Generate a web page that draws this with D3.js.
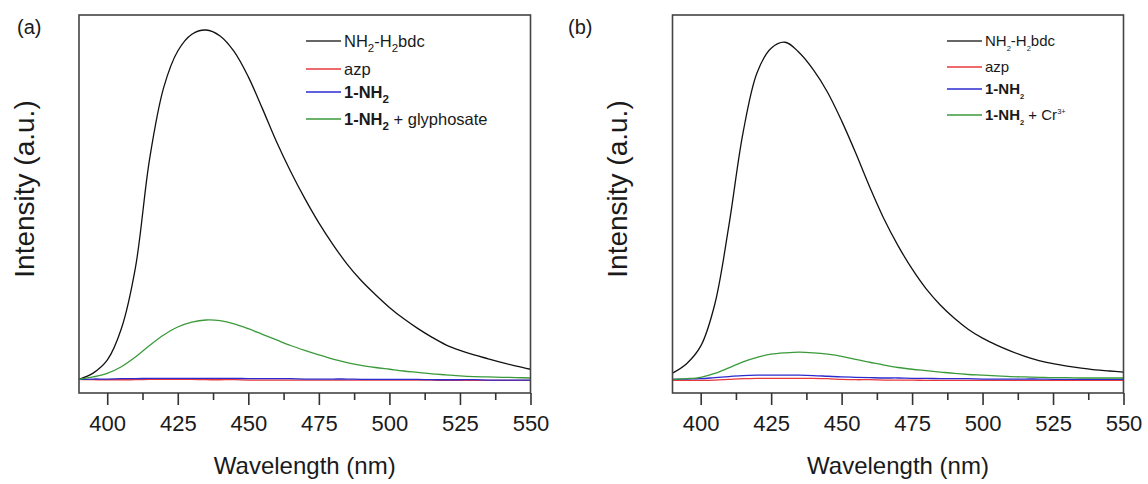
<!DOCTYPE html>
<html>
<head>
<meta charset="utf-8">
<script src="https://cdn.jsdelivr.net/npm/d3@7"></script>
<style>
body { margin: 0; background: #fff; }
text { font-family: "Liberation Sans", Arial, sans-serif; fill: #1a1a1a; }
</style>
</head>
<body>
<div id="chart"></div>
<script>
// Wavelength grid (nm), shared by every series
var wavelength = [390, 395, 400, 405, 410, 415, 420, 425, 430, 435, 440,
                  445, 450, 455, 460, 465, 470, 475, 480, 485, 490, 495,
                  500, 505, 510, 515, 520, 525, 530, 535, 540, 545, 550];

// Panel (a) intensities (a.u.)
var aLinker = [0, 18, 55, 145, 320, 630, 835, 940, 988, 1000, 983,
               938, 866, 775, 680, 595, 518, 448, 386, 330, 283, 243,
               206, 174, 146, 121, 99, 83, 70, 59, 48, 38, 29];
var aAzp = [0, -1, -1, -1, -1, 0, 0, 0, 0, -1, -1,
            -1, -2, -2, -2, -2, -2, -2, -2, -2, -2, -2,
            -2, -2, -2, -2, -3, -3, -3, -3, -3, -3, -3];
var aMof = [0, 1, 1, 2, 2, 3, 3, 3, 3, 3, 3,
            3, 2, 2, 2, 2, 1, 1, 1, 1, 0, 0,
            0, 0, 0, -1, -1, -1, -1, -2, -2, -2, -2];
var aMofGly = [0, 7, 17, 36, 64, 97, 127, 150, 164, 170, 168,
               159, 145, 129, 113, 97, 83, 70, 58, 48, 40, 34,
               29, 24, 20, 16, 13, 10, 8, 7, 6, 5, 4];

// Panel (b) intensities (a.u.)
var bLinker = [18, 45, 95, 215, 440, 705, 878, 948, 965, 935, 886,
               822, 740, 648, 550, 460, 383, 316, 259, 213, 175, 143,
               118, 98, 81, 66, 54, 45, 38, 32, 27, 24, 21];
var bAzp = [-3, -3, -3, -2, 0, 2, 3, 3, 3, 3, 3,
            2, 0, -1, -1, -2, -2, -2, -3, -3, -3, -3,
            -3, -3, -3, -3, -3, -3, -3, -3, -3, -3, -3];
var bMof = [0, 1, 2, 5, 8, 11, 12, 12, 12, 12, 11,
            9, 7, 6, 5, 4, 4, 3, 3, 2, 2, 2,
            1, 1, 1, 1, 1, 0, 0, 0, 0, 0, 0];
var bMofCr = [0, 2, 6, 17, 33, 50, 63, 72, 76, 78, 76,
              72, 66, 57, 49, 41, 34, 29, 25, 21, 17, 14,
              12, 10, 8, 7, 6, 5, 5, 4, 4, 4, 4];

// Axis ticks
var majorTicks = [400, 425, 450, 475, 500, 525, 550];
var minorTicks = [412.5, 437.5, 462.5, 487.5, 512.5, 537.5];

// Series colours (draw order: black, red, blue, green)
var seriesColors = ["#111111", "#e8383c", "#2b2bd0", "#3a9a3a"];

// Legend labels, as text segments
var aLegend = [
    [{t: "NH"}, {t: "2", sub: 1}, {t: "-H"}, {t: "2", sub: 1}, {t: "bdc"}],
    [{t: "azp"}],
    [{t: "1-NH", b: 1}, {t: "2", sub: 1, b: 1}],
    [{t: "1-NH", b: 1}, {t: "2", sub: 1, b: 1}, {t: " + glyphosate"}]
];
var bLegend = [
    [{t: "NH"}, {t: "2", sub: 1}, {t: "-H"}, {t: "2", sub: 1}, {t: "bdc"}],
    [{t: "azp"}],
    [{t: "1-NH", b: 1}, {t: "2", sub: 1, b: 1}],
    [{t: "1-NH", b: 1}, {t: "2", sub: 1, b: 1}, {t: " + Cr"}, {t: "3+", sup: 1}]
];

var svg = d3.select("#chart").append("svg")
            .attr("width", 1148)
            .attr("height", 484);

function DrawPanel(p)
{
    var x = d3.scaleLinear().domain([390, 550]).range([p.left, p.right]);
    var y = d3.scaleLinear().domain([-39, 1043]).range([p.bottom, p.top]);

    var g = svg.append("g");

    var line = d3.line()
                 .x(function(d, i) { return x(wavelength[i]); })
                 .y(function(d) { return y(d); })
                 .curve(d3.curveCatmullRom.alpha(0.5));

    p.series.forEach(function(values, i)
    {
        g.append("path")
         .datum(values)
         .attr("fill", "none")
         .attr("stroke", seriesColors[i])
         .attr("stroke-width", 1.3)
         .attr("d", line);
    });

    // frame
    g.append("rect")
     .attr("x", p.left)
     .attr("y", p.top)
     .attr("width", p.right - p.left)
     .attr("height", p.bottom - p.top)
     .attr("fill", "none")
     .attr("stroke", "#444")
     .attr("stroke-width", 1.6);

    var ax = g.append("g")
              .attr("transform", "translate(0," + p.bottom + ")")
              .call(d3.axisBottom(x).tickValues(majorTicks).tickSize(12).tickSizeOuter(0).tickPadding(10));
    ax.select(".domain").remove();
    ax.selectAll("line").attr("stroke", "#333").attr("stroke-width", 1.6);
    ax.selectAll("text").style("font-size", "22px").attr("fill", "#1a1a1a");

    var mx = g.append("g")
              .attr("transform", "translate(0," + p.bottom + ")")
              .call(d3.axisBottom(x).tickValues(minorTicks).tickSize(7).tickSizeOuter(0).tickFormat(""));
    mx.select(".domain").remove();
    mx.selectAll("line").attr("stroke", "#333").attr("stroke-width", 1.6);

    g.append("text")
     .attr("x", (p.left + p.right) / 2)
     .attr("y", 474)
     .attr("text-anchor", "middle")
     .style("font-size", "24px")
     .text("Wavelength (nm)");

    g.append("text")
     .attr("transform", "translate(" + p.yLabelX + ",189) rotate(-90)")
     .attr("text-anchor", "middle")
     .style("font-size", "28px")
     .text("Intensity (a.u.)");

    g.append("text")
     .attr("x", p.tagX)
     .attr("y", 34)
     .style("font-size", "20px")
     .text(p.tag);

    // legend
    p.legend.forEach(function(parts, i)
    {
        var ly = p.legendY[i];
        g.append("line")
         .attr("x1", p.legendX)
         .attr("x2", p.legendX + 35)
         .attr("y1", ly)
         .attr("y2", ly)
         .attr("stroke", i === 0 ? "#333" : seriesColors[i])
         .attr("stroke-width", 1.3);

        var t = g.append("text")
                 .attr("x", p.legendX + 38)
                 .attr("y", ly + p.legendSize * 0.36)
                 .style("font-size", p.legendSize + "px");

        var shift = 0;
        parts.forEach(function(s)
        {
            var ts = t.append("tspan").text(s.t);
            var want = 0;
            if (s.b) ts.style("font-weight", "bold");
            if (s.sub)
            {
                ts.style("font-size", (p.legendSize * p.subScale) + "px");
                want = p.legendSize * 0.3;
            }
            else if (s.sup)
            {
                ts.style("font-size", (p.legendSize * 0.5) + "px");
                want = -p.legendSize * 0.45;
            }
            ts.attr("dy", want - shift);
            shift = want;
        });
    });
}

DrawPanel({
    left: 79, right: 530.5, top: 15, bottom: 393,
    tag: "(a)", tagX: 17, yLabelX: 34,
    series: [aLinker, aAzp, aMof, aMofGly],
    legend: aLegend, legendX: 306, legendY: [41, 69, 92, 119],
    legendSize: 16.5, subScale: 0.7
});

DrawPanel({
    left: 672.5, right: 1123.5, top: 15, bottom: 393,
    tag: "(b)", tagX: 568, yLabelX: 627,
    series: [bLinker, bAzp, bMof, bMofCr],
    legend: bLegend, legendX: 947, legendY: [41, 67, 89, 115],
    legendSize: 15, subScale: 0.5
});
</script>
</body>
</html>
